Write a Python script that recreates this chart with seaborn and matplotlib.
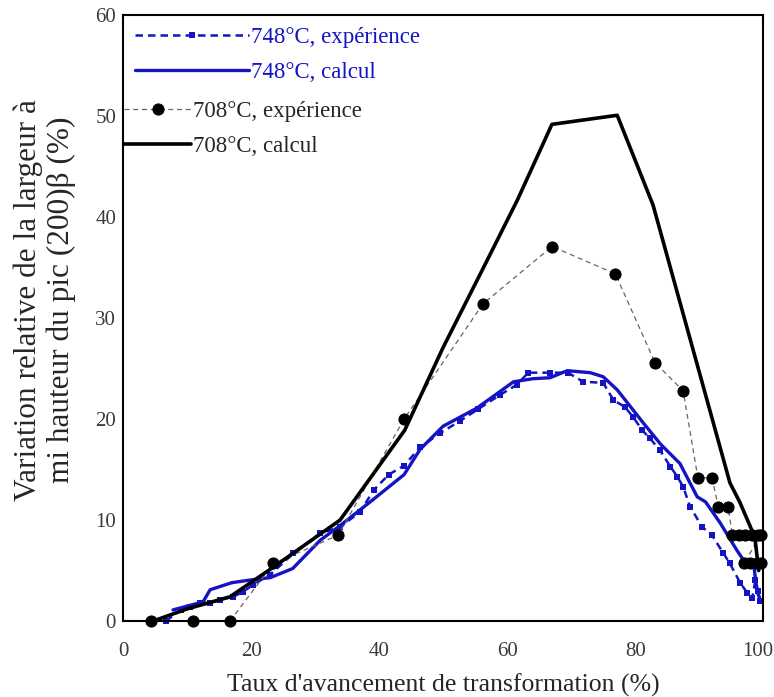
import matplotlib
matplotlib.use("Agg")
import matplotlib.pyplot as plt
import matplotlib.transforms as mtransforms
import seaborn as sns

# 748 °C, experiment (blue squares, dashed)
exp748_x = [6.7, 9.0, 10.5, 12.0, 13.6, 15.2, 17.2, 18.8, 20.3, 23.0, 26.6, 30.8, 33.9, 37.0,
            39.2, 41.5, 43.9, 46.4, 49.5, 52.6, 55.5, 58.9, 61.5, 63.3, 66.7, 69.5, 71.9, 75.0,
            76.6, 78.4, 79.7, 81.1, 82.3, 83.9, 85.5, 86.6, 87.5, 88.6, 90.5, 92.0, 93.8, 94.8,
            96.4, 97.5, 98.3, 98.8, 99.2, 99.5]
exp748_y = [0.0, 1.1, 1.4, 1.8, 1.8, 2.1, 2.4, 2.9, 3.6, 4.6, 6.7, 8.7, 9.3, 10.8,
            13.0, 14.5, 15.4, 17.2, 18.6, 19.8, 21.0, 22.4, 23.4, 24.6, 24.6, 24.6, 23.7, 23.6,
            21.9, 21.2, 20.2, 18.9, 18.1, 16.9, 15.3, 14.3, 13.3, 11.3, 9.3, 8.5, 6.7, 5.7,
            3.8, 2.8, 2.3, 4.1, 3.0, 2.0]

# 748 °C, calculation
calc748_x = [7.8, 12.5, 13.6, 17.0, 20.3, 23.0, 26.5, 30.8, 34.0, 38.6, 43.9, 46.4, 50.0, 55.3,
             61.0, 64.0, 66.7, 69.4, 73.0, 75.0, 77.2, 81.3, 84.0, 87.0, 89.7, 91.0, 93.3, 95.9,
             97.5, 98.5, 99.0, 99.5]
calc748_y = [1.1, 1.9, 3.1, 3.8, 4.1, 4.3, 5.2, 8.0, 9.5, 11.8, 14.5, 17.0, 19.3, 21.1,
             23.7, 24.0, 24.1, 24.8, 24.6, 24.2, 22.9, 19.6, 17.5, 15.6, 12.3, 11.8, 9.7, 7.0,
             5.5, 5.8, 3.0, 2.2]

# 708 °C, experiment (black dots, thin dashed)
exp708_x = [4.4, 10.9, 16.7, 23.5, 33.6, 43.9, 56.2, 67.0, 76.9, 83.1, 87.5, 89.8, 92.0, 93.0,
            94.5, 95.2, 96.2, 97.2, 98.2, 99.2, 99.6, 97.0, 98.0, 99.0, 99.6]
exp708_y = [0.0, 0.0, 0.0, 5.7, 8.5, 20.0, 31.4, 37.1, 34.4, 25.6, 22.8, 14.2, 14.2, 11.3,
            11.3, 8.5, 8.5, 8.5, 8.5, 8.5, 8.5, 5.7, 5.7, 5.7, 5.7]

# 708 °C, calculation
calc708_x = [4.7, 10.0, 16.7, 23.4, 33.9, 44.0, 50.0, 56.3, 61.6, 67.0, 77.2, 82.8, 94.8, 96.4,
             98.7, 99.3]
calc708_y = [0.0, 1.2, 2.4, 5.3, 10.0, 18.9, 27.1, 35.0, 41.7, 49.2, 50.1, 41.2, 13.7, 11.7,
             8.3, 5.0]

BLUE = "#1414c4"

sns.set_theme(style="white")
plt.rcParams["font.family"] = ["Liberation Serif", "DejaVu Serif"]

fig, ax = plt.subplots(figsize=(7.74, 6.97), dpi=100)
fig.subplots_adjust(left=0.159, right=0.986, bottom=0.109, top=0.978)

l1 = sns.lineplot(x=exp748_x, y=exp748_y, sort=False, estimator=None, ax=ax, color=BLUE,
                  linestyle=(0, (3, 2)), linewidth=1.8, marker="s", markersize=5,
                  markeredgewidth=0, clip_on=False).lines[-1]
l2 = sns.lineplot(x=calc748_x, y=calc748_y, sort=False, estimator=None, ax=ax, color=BLUE,
                  linewidth=2.4).lines[-1]
l3 = sns.lineplot(x=exp708_x, y=exp708_y, sort=False, estimator=None, ax=ax, color="#666666",
                  linestyle=(0, (4, 3)), linewidth=0.9, marker="o", markersize=8,
                  markerfacecolor="black", markeredgecolor="black", clip_on=False).lines[-1]
l4 = sns.lineplot(x=calc708_x, y=calc708_y, sort=False, estimator=None, ax=ax, color="black",
                  linewidth=2.6).lines[-1]

ax.set_xlim(0, 100)
ax.set_ylim(0, 60)
ax.set_xticks(range(0, 101, 20))
ax.set_yticks(range(0, 61, 10))
ax.tick_params(direction="in", length=6, width=1.2, labelsize=15, colors="black",
               labelcolor="#3a3a3a")
ax.tick_params(axis="x", pad=15)
ax.tick_params(axis="y", pad=5)
for sp in ax.spines.values():
    sp.set_color("black")
    sp.set_linewidth(1.5)

# keep "100" inside the canvas, flush with the right edge
fig.canvas.draw()
last = ax.get_xticklabels()[-1]
last.set_horizontalalignment("right")
last.set_transform(last.get_transform()
                   + mtransforms.ScaledTranslation(10 / 100, 0, fig.dpi_scale_trans))

ax.set_xlabel("Taux d'avancement de transformation (%)", fontsize=18.5, labelpad=9)
ax.set_ylabel("Variation relative de la largeur à\nmi hauteur du pic (200)β (%)",
              fontsize=22.5, linespacing=1.15)
ax.yaxis.set_label_coords(-0.074, 0.53)

leg1 = ax.legend([l1, l2], ["748°C, expérience", "748°C, calcul"], loc="upper left",
                 bbox_to_anchor=(0.0, 1.0), frameon=False, fontsize=16.5, handlelength=5.0,
                 handletextpad=0.1, labelspacing=0.6, borderpad=0.2, borderaxespad=0.3,
                 numpoints=1)
for t in leg1.get_texts():
    t.set_color(BLUE)
ax.add_artist(leg1)
leg2 = ax.legend([l3, l4], ["708°C, expérience", "708°C, calcul"], loc="upper left",
                 bbox_to_anchor=(-0.016, 0.877), frameon=False, fontsize=16.5, handlelength=2.9,
                 handletextpad=0.1, labelspacing=0.6, borderpad=0.2, borderaxespad=0.3,
                 numpoints=1)

fig.savefig("out.png", dpi=100, facecolor="white")
